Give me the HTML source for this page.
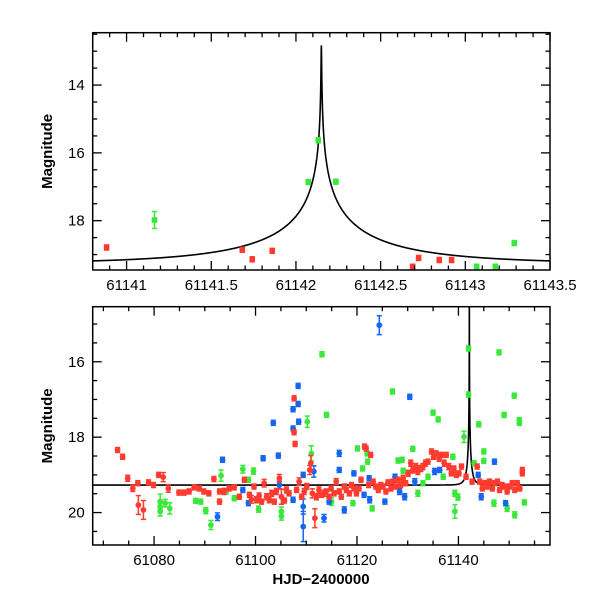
<!DOCTYPE html>
<html><head><meta charset="utf-8">
<style>
html,body{margin:0;padding:0;background:#fff;}
svg{display:block;font-family:"Liberation Sans",sans-serif;}
</style></head>
<body>
<svg id="chart" width="600" height="600" viewBox="0 0 600 600" xmlns="http://www.w3.org/2000/svg"></svg>
<script>
// ---- model parameters ----
const modelT0 = 61142.15, modelTE = 1.0, modelU0 = 0.00125, modelFs = 0.46, modelBase = 19.27;

// ---- top panel data ----
const topRedT = [61140.882,61141.683,61141.742,61141.86,61142.689,61142.724,61142.846,61142.919];
const topRedM = [18.79,18.86,19.14,18.89,19.36,19.10,19.16,19.16];
const topRedE = [0.04,0.07,0.05,0.05,0.05,0.04,0.04,0.04];
const topGreenT = [61141.165,61142.073,61142.132,61142.236,61143.067,61143.177,61143.289];
const topGreenM = [17.98,16.86,15.63,16.85,19.36,19.36,18.66];
const topGreenE = [0.25,0.04,0.04,0.04,0.04,0.04,0.04];

// ---- bottom panel data ----
const redT = [61072.8,61073.8,61074.8,61075.8,61076.8,61076.9,61077.9,61078.9,61079.9,61080.9,61081.8,61082.8,61084.9,61085.9,61086.9,61087.9,61088.9,61089.8,61090.8,61091.8,61092.9,61092.9,61093.8,61094.8,61095.8,61096.8,61097.8,61098.8,61099.2,61099.7,61100.2,61100.7,61101.2,61101.7,61102.2,61102.7,61103.2,61103.7,61104.1,61104.7,61105.1,61105.7,61106.1,61106.6,61107.6,61107.6,61107.8,61108.1,61108.6,61109.1,61109.6,61110.1,61110.7,61110.9,61111.2,61111.7,61112.0,61112.5,61113.0,61113.5,61113.9,61114.5,61114.9,61115.5,61115.9,61116.5,61116.9,61117.5,61117.9,61118.5,61118.9,61119.4,61119.9,61120.4,61120.8,61121.5,61121.8,61122.3,61122.7,61123.2,61123.7,61124.2,61124.7,61125.1,61125.7,61126.1,61126.7,61127.1,61127.6,61128.1,61128.6,61129.1,61129.6,61130.1,61130.6,61131.0,61131.6,61132.0,61132.6,61133.0,61133.5,61134.0,61134.7,61135.1,61135.6,61136.2,61136.6,61137.2,61137.6,61138.1,61138.6,61139.1,61139.6,61140.1,61140.6,61141.5,61142.7,61143.7,61144.2,61144.7,61145.2,61145.7,61146.1,61146.7,61147.1,61147.7,61148.1,61148.6,61149.1,61149.6,61150.1,61150.6,61151.1,61151.6,61152.1,61152.6,61152.6];
const redM = [18.34,18.52,19.09,19.36,19.22,19.80,19.93,19.20,19.27,19.00,19.06,19.36,19.47,19.47,19.44,19.33,19.36,19.44,19.49,19.11,19.44,19.71,19.44,19.36,19.33,19.58,19.13,19.53,19.65,19.31,19.66,19.56,19.71,19.22,19.58,19.66,19.49,19.71,19.44,19.09,19.58,19.68,19.40,19.49,16.97,17.87,18.18,19.40,19.18,19.58,19.44,19.31,18.87,18.69,19.49,20.15,19.58,19.40,19.53,19.49,19.44,19.58,19.36,19.49,19.18,19.44,19.58,19.31,19.40,19.49,19.27,19.36,19.49,19.36,19.13,18.25,18.30,19.27,18.47,19.18,19.31,19.40,19.27,19.31,19.44,19.20,19.36,19.18,19.31,19.13,19.27,19.09,19.22,18.96,18.69,18.87,18.78,18.91,18.83,18.78,18.69,18.65,18.38,18.52,18.43,18.56,18.47,18.69,18.47,18.78,18.96,18.83,19.00,18.96,18.78,19.05,19.18,18.78,19.18,19.36,19.22,19.31,19.18,19.36,19.22,19.18,19.40,19.27,19.31,19.44,19.31,19.22,19.40,19.22,19.36,18.96,18.87];
const redE = [0.05,0.05,0.08,0.08,0.06,0.25,0.25,0.06,0.06,0.06,0.12,0.1,0.05,0.05,0.05,0.05,0.05,0.05,0.05,0.06,0.06,0.06,0.08,0.05,0.05,0.05,0.06,0.06,0.1,0.06,0.08,0.08,0.06,0.1,0.08,0.08,0.08,0.06,0.08,0.1,0.2,0.06,0.08,0.06,0.04,0.05,0.04,0.06,0.1,0.06,0.08,0.08,0.12,0.2,0.12,0.25,0.08,0.08,0.06,0.08,0.06,0.06,0.06,0.06,0.08,0.06,0.06,0.06,0.06,0.06,0.06,0.06,0.06,0.06,0.06,0.04,0.04,0.06,0.04,0.06,0.06,0.06,0.06,0.06,0.06,0.06,0.06,0.06,0.06,0.06,0.06,0.08,0.06,0.08,0.08,0.08,0.08,0.08,0.08,0.08,0.08,0.06,0.06,0.06,0.06,0.08,0.06,0.08,0.06,0.08,0.06,0.06,0.06,0.06,0.06,0.06,0.06,0.06,0.06,0.06,0.06,0.06,0.06,0.06,0.06,0.06,0.06,0.06,0.06,0.06,0.06,0.06,0.06,0.06,0.06,0.06,0.06];
const greenT = [61081.2,61081.2,61081.2,61082.2,61083.1,61088.2,61089.2,61090.2,61091.2,61093.2,61094.2,61095.8,61097.5,61098.6,61099.6,61100.6,61105.1,61105.1,61110.2,61111.0,61113.1,61114.0,61115.0,61119.2,61120.1,61121.1,61122.0,61122.1,61123.0,61127.0,61128.1,61128.9,61129.1,61131.0,61132.0,61133.0,61134.0,61135.0,61136.0,61137.0,61138.9,61139.3,61139.3,61139.9,61141.1,61142.0,61142.0,61143.1,61144.0,61145.0,61145.0,61147.0,61148.0,61149.0,61149.6,61151.0,61151.1,61152.0,61152.0,61153.0];
const greenM = [19.71,19.84,19.97,19.75,19.89,19.69,19.71,19.95,20.33,19.02,19.44,19.62,18.85,19.13,18.90,19.91,19.97,20.10,17.59,18.43,15.80,17.41,19.71,19.75,18.30,18.83,18.43,18.65,19.89,16.79,18.62,18.60,18.89,18.31,19.49,19.22,19.05,17.35,17.53,19.05,18.52,19.49,19.97,19.59,17.99,15.65,16.87,18.69,17.66,18.38,18.63,19.75,15.75,17.41,19.89,16.90,20.06,17.55,17.62,19.73];
const greenE = [0.2,0.15,0.12,0.1,0.15,0.06,0.06,0.08,0.12,0.15,0.06,0.06,0.1,0.06,0.08,0.08,0.12,0.1,0.15,0.2,0.03,0.03,0.1,0.06,0.04,0.06,0.04,0.05,0.06,0.03,0.05,0.05,0.06,0.04,0.08,0.06,0.06,0.03,0.03,0.06,0.06,0.08,0.18,0.08,0.15,0.03,0.03,0.04,0.03,0.04,0.04,0.08,0.03,0.03,0.08,0.03,0.08,0.03,0.03,0.06];
const blueT = [61092.5,61093.5,61097.5,61098.6,61101.5,61103.5,61104.5,61104.7,61107.4,61107.4,61107.4,61108.4,61108.4,61108.5,61109.4,61109.4,61109.4,61111.5,61113.5,61114.5,61116.5,61116.5,61117.5,61119.4,61121.4,61122.4,61122.5,61124.4,61125.5,61127.5,61128.4,61129.4,61130.4,61131.4,61135.3,61136.3,61143.9,61144.5,61147.1,61149.3];
const blueM = [20.11,18.60,19.40,19.75,18.56,17.62,18.49,19.27,19.66,17.77,17.26,17.12,16.64,17.59,19.00,19.84,20.37,18.91,20.15,19.71,18.43,18.87,19.93,18.96,19.53,19.09,19.66,15.03,19.71,19.05,19.44,19.58,16.93,19.18,18.91,18.87,19.00,19.58,18.65,19.75];
const blueE = [0.1,0.06,0.06,0.06,0.05,0.04,0.06,0.1,0.06,0.05,0.04,0.04,0.04,0.04,0.06,0.2,0.4,0.15,0.1,0.06,0.08,0.06,0.08,0.05,0.06,0.06,0.08,0.25,0.06,0.06,0.08,0.08,0.04,0.08,0.08,0.06,0.06,0.08,0.06,0.06];

const RED='#ff3b2f', GREEN='#39e83a', BLUE='#1565f0';
const NS='http://www.w3.org/2000/svg';
const svg=document.getElementById('chart');
function mk(tag,attrs,parent){const e=document.createElementNS(NS,tag);for(const k in attrs)e.setAttribute(k,attrs[k]);(parent||svg).appendChild(e);return e;}

function modelMag(t){
  const d=(t-modelT0)/modelTE;
  const u=Math.sqrt(modelU0*modelU0+d*d);
  const A=(u*u+2)/(u*Math.sqrt(u*u+4));
  return modelBase-2.5*Math.log10(modelFs*A+1-modelFs);
}

function panel(cfg){
  const {name,x0,x1,y0,y1,tMin,tMax,mMin,mMax}=cfg;
  const sx=t=>x0+(t-tMin)/(tMax-tMin)*(x1-x0);
  const sy=m=>y0+(m-mMin)/(mMax-mMin)*(y1-y0);
  const g=mk('g',{});
  
  
  const cid='clip-'+name;
  const cp=mk('clipPath',{id:cid},g);mk('rect',{x:x0,y:y0,width:x1-x0,height:y1-y0},cp);
  const plot=mk('g',{'clip-path':'url(#'+cid+')'},g);
  
  
  let pts=[];const N=3000;
  for(let i=0;i<=N;i++){
    const f=i/N*2-1;const s=Math.sign(f)*Math.pow(Math.abs(f),3);
    let t=modelT0+s*Math.max(modelT0-tMin,tMax-modelT0);
    if(t<tMin||t>tMax)continue;
    pts.push(sx(t).toFixed(2)+','+sy(modelMag(t)).toFixed(2));
  }
  const line=mk('polyline',{points:pts.join(' '),fill:'none',stroke:'#000','stroke-width':1.6},plot);
  
  
  cfg.series.forEach(s=>{
    const sg=mk('g',{fill:s.color,stroke:s.color,'stroke-width':1.5},plot);
    
    
    for(let i=0;i<s.t.length;i++){
      const x=sx(s.t[i]),y=sy(s.m[i]);
      let h=Math.max(2.5,(sy(s.m[i]+s.e[i])-sy(s.m[i]-s.e[i]))/2);
      const ya=y-h,yb=y+h;
      mk('line',{x1:x,x2:x,y1:ya,y2:yb},sg);
      mk('line',{x1:x-2.6,x2:x+2.6,y1:ya,y2:ya},sg);
      mk('line',{x1:x-2.6,x2:x+2.6,y1:yb,y2:yb},sg);
      let p;
      if(s.square){p=mk('rect',{x:x-2.8,y:y-2.8,width:5.6,height:5.6,stroke:'none'},sg);}
      else{p=mk('circle',{cx:x,cy:y,r:2.9,stroke:'none'},sg);}
      
      
    }
  });
  const fr=mk('rect',{x:x0,y:y0,width:x1-x0,height:y1-y0,fill:'none',stroke:'#000','stroke-width':1.5},g);
  
  
  const tg=mk('g',{stroke:'#000','stroke-width':1.3},g);
  
  
  const eps=1e-6;
  for(let k=Math.ceil(tMin/cfg.xMinor-eps);k*cfg.xMinor<=tMax+eps;k++){
    const t=k*cfg.xMinor;const x=sx(t);
    const major=Math.abs(t/cfg.xMajor-Math.round(t/cfg.xMajor))<1e-4;
    const L=major?9:4.5;
    mk('line',{x1:x,x2:x,y1:y1,y2:y1-L},tg);mk('line',{x1:x,x2:x,y1:y0,y2:y0+L},tg);
  }
  for(let k=Math.ceil(mMin/0.5-eps);k*0.5<=mMax+eps;k++){
    const m=k*0.5;const y=sy(m);
    const major=Math.abs(m/2-Math.round(m/2))<1e-4;
    const L=major?9:4.5;
    mk('line',{x1:x0,x2:x0+L,y1:y,y2:y},tg);mk('line',{x1:x1,x2:x1-L,y1:y,y2:y},tg);
  }
  cfg.xLabels.forEach(v=>{
    const tx=mk('text',{x:sx(v),y:y1+20,'text-anchor':'middle','font-size':15},g);
    tx.textContent=String(v);
    
    
  });
  cfg.yLabels.forEach(v=>{
    const tx=mk('text',{x:x0-8,y:sy(v)+5,'text-anchor':'end','font-size':15},g);
    tx.textContent=String(v);
    
    
  });
  const yl=mk('text',{x:0,y:0,'text-anchor':'middle','font-size':15,'font-weight':'bold',transform:'translate(52,'+((y0+y1)/2)+') rotate(-90)'},g);
  yl.textContent='Magnitude';
  
  
}

const topXLabels=[61141,61141.5,61142,61142.5,61143,61143.5];
const topYLabels=[14,16,18];
const botXLabels=[61080,61100,61120,61140];
const botYLabels=[16,18,20];

panel({name:'zoom-panel',x0:92.7,x1:550,y0:32.7,y1:270,tMin:61140.8,tMax:61143.5,mMin:12.455,mMax:19.455,
  xMinor:0.1,xMajor:0.5,xLabels:topXLabels,yLabels:topYLabels,
  series:[{name:'red-observatory',color:RED,t:topRedT,m:topRedM,e:topRedE,square:true},
          {name:'green-observatory',color:GREEN,t:topGreenT,m:topGreenM,e:topGreenE,square:true}]});
panel({name:'full-panel',x0:92.7,x1:550,y0:306.7,y1:545,tMin:61067.9,tMax:61158.05,mMin:14.54,mMax:20.86,
  xMinor:5,xMajor:20,xLabels:botXLabels,yLabels:botYLabels,
  series:[{name:'green-observatory',color:GREEN,t:greenT,m:greenM,e:greenE},
          {name:'blue-observatory',color:BLUE,t:blueT,m:blueM,e:blueE},
          {name:'red-observatory',color:RED,t:redT,m:redM,e:redE}]});

const xt=mk('text',{x:321,y:584,'text-anchor':'middle','font-size':15,'font-weight':'bold'});
xt.textContent='HJD\u22122400000';


</script>
</body></html>
